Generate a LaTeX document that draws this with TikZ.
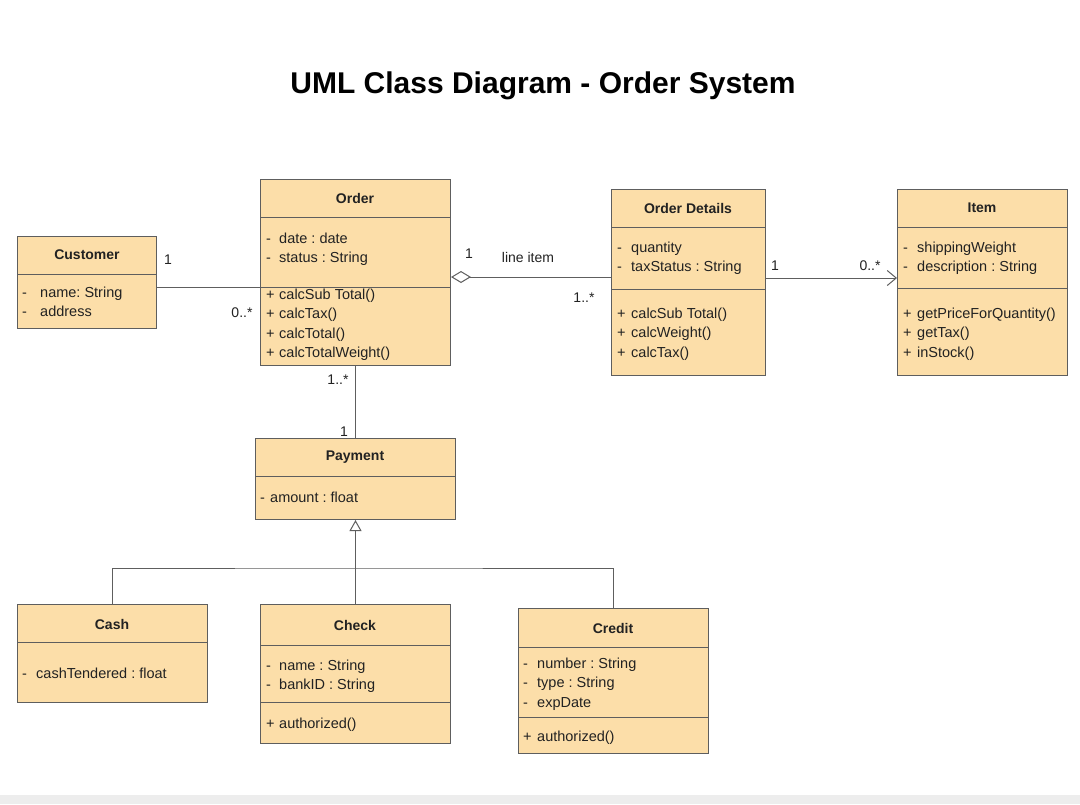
\documentclass[tikz,border=0pt]{standalone}
\usepackage{fontspec}
\setmainfont{Liberation Sans}
\usetikzlibrary{arrows.meta}
\frenchspacing
\definecolor{boxfill}{HTML}{FCDEA9}
\definecolor{boxline}{HTML}{5E5E5E}
\definecolor{txt}{HTML}{222222}
\definecolor{strip}{HTML}{EDEDED}
\newcommand{\umlrows}[2]{\begin{tabular}[t]{@{}p{#1pt}@{}l@{}}#2\end{tabular}}
\begin{document}
\begin{tikzpicture}[x=1pt,y=-1pt,
  cls/.style={draw=boxline, fill=boxfill, line width=1pt, inner sep=0pt, anchor=north west},
  divline/.style={draw=boxline, line width=1pt},
  conn/.style={draw=boxline, line width=1pt, line join=miter},
  ctitle/.style={font=\fontsize{14}{17}\selectfont\bfseries, text=txt, inner sep=0pt},
  rows/.style={font=\fontsize{14.5}{19.5}\selectfont\frenchspacing, text=txt, inner sep=0pt, anchor=base west},
  mult/.style={font=\fontsize{14}{17}\selectfont, text=txt, inner sep=0pt}]
\fill[white] (0,0) rectangle (1080,804);
\useasboundingbox (0,0) rectangle (1080,804);
\fill[strip] (0,795) rectangle (1080,804);

\node[font=\fontsize{30}{36}\selectfont\bfseries, text=black, inner sep=0pt] (title) at (543,86) {UML Class Diagram - Order System};

% Customer
\node[cls, minimum width=139pt, minimum height=92pt] (customer) at (17,236) {};
\draw[divline] (17,274) -- (156,274);
\node[ctitle] (customer-t) at (87,255) {Customer};
\node[rows] (customer-a) at (22,297) {\umlrows{18}{- & name: String\\ - & address}};

% Order
\node[cls, minimum width=190pt, minimum height=186pt] (order) at (260,179) {};
\draw[divline] (260,217) -- (450,217);
\draw[divline] (260,287) -- (450,287);
\node[ctitle] (order-t) at (355,198) {Order};
\node[rows] (order-a) at (266,243) {\umlrows{13}{- & date : date\\ - & status : String}};
\node[rows] (order-m) at (266,299) {\umlrows{13}{+ & calcSub Total()\\ + & calcTax()\\ + & calcTotal()\\ + & calcTotalWeight()}};

% Order Details
\node[cls, minimum width=154pt, minimum height=186pt] (od) at (611,189) {};
\draw[divline] (611,227) -- (765,227);
\draw[divline] (611,289) -- (765,289);
\node[ctitle] (od-t) at (688,208) {Order Details};
\node[rows] (od-a) at (617,252) {\umlrows{14}{- & quantity\\ - & taxStatus : String}};
\node[rows] (od-m) at (617,318) {\umlrows{14}{+ & calcSub Total()\\ + & calcWeight()\\ + & calcTax()}};

% Item
\node[cls, minimum width=170pt, minimum height=186pt] (item) at (897,189) {};
\draw[divline] (897,227) -- (1067,227);
\draw[divline] (897,288) -- (1067,288);
\node[ctitle] (item-t) at (982,208) {Item};
\node[rows] (item-a) at (903,252) {\umlrows{14}{- & shippingWeight\\ - & description : String}};
\node[rows] (item-m) at (903,318) {\umlrows{14}{+ & getPriceForQuantity()\\ + & getTax()\\ + & inStock()}};

% Payment
\node[cls, minimum width=200pt, minimum height=81pt] (payment) at (255,438) {};
\draw[divline] (255,476) -- (455,476);
\node[ctitle] (payment-t) at (355,457) {Payment};
\node[rows] (payment-a) at (260,502) {\umlrows{10}{- & amount : float}};

% Cash
\node[cls, minimum width=190pt, minimum height=98pt] (cash) at (17,604) {};
\draw[divline] (17,642) -- (207,642);
\node[ctitle] (cash-t) at (112,624) {Cash};
\node[rows] (cash-a) at (22,678) {\umlrows{14}{- & cashTendered : float}};

% Check
\node[cls, minimum width=190pt, minimum height=139pt] (check) at (260,604) {};
\draw[divline] (260,645) -- (450,645);
\draw[divline] (260,702) -- (450,702);
\node[ctitle] (check-t) at (355,625) {Check};
\node[rows] (check-a) at (266,670) {\umlrows{13}{- & name : String\\ - & bankID : String}};
\node[rows] (check-m) at (266,728) {\umlrows{13}{+ & authorized()}};

% Credit
\node[cls, minimum width=190pt, minimum height=145pt] (credit) at (518,608) {};
\draw[divline] (518,647) -- (708,647);
\draw[divline] (518,717) -- (708,717);
\node[ctitle] (credit-t) at (613,628) {Credit};
\node[rows] (credit-a) at (523,668) {\umlrows{14}{- & number : String\\ - & type : String\\ - & expDate}};
\node[rows] (credit-m) at (523,741) {\umlrows{14}{+ & authorized()}};

% connector helper coordinates
\coordinate (cu) at (0,287);
\coordinate (ag) at (0,277);
\coordinate (ar) at (0,278);
\coordinate (gen) at (355,568);

% connectors
\draw[conn] (customer.east |- cu) -- (order.west |- cu);
\draw[conn, {Diamond[open, length=20pt, width=12pt]}-] (order.east |- ag) -- (od.west |- ag);
\draw[conn, -{Straight Barb[length=9pt, width=15pt]}] (od.east |- ar) -- (item.west |- ar);
\draw[conn] (order.south) -- (payment.north);
\draw[conn, -{Triangle[open, length=11pt, width=12pt]}] (check.north) -- (payment.south);
\draw[conn] (cash.north) |- (gen) -| (credit.north);

% multiplicities
\node[mult] (m1) at (168,260) {1};
\node[mult] (m2) at (242,313) {0..*};
\node[mult] (m3) at (469,254) {1};
\node[mult] (m4) at (528,257) {line item};
\node[mult] (m5) at (584,298) {1..*};
\node[mult] (m6) at (775,266) {1};
\node[mult] (m7) at (870,266) {0..*};
\node[mult] (m8) at (338,380) {1..*};
\node[mult, fill=white, inner sep=1pt] (m9) at (344,432) {1};
\end{tikzpicture}
\end{document}
